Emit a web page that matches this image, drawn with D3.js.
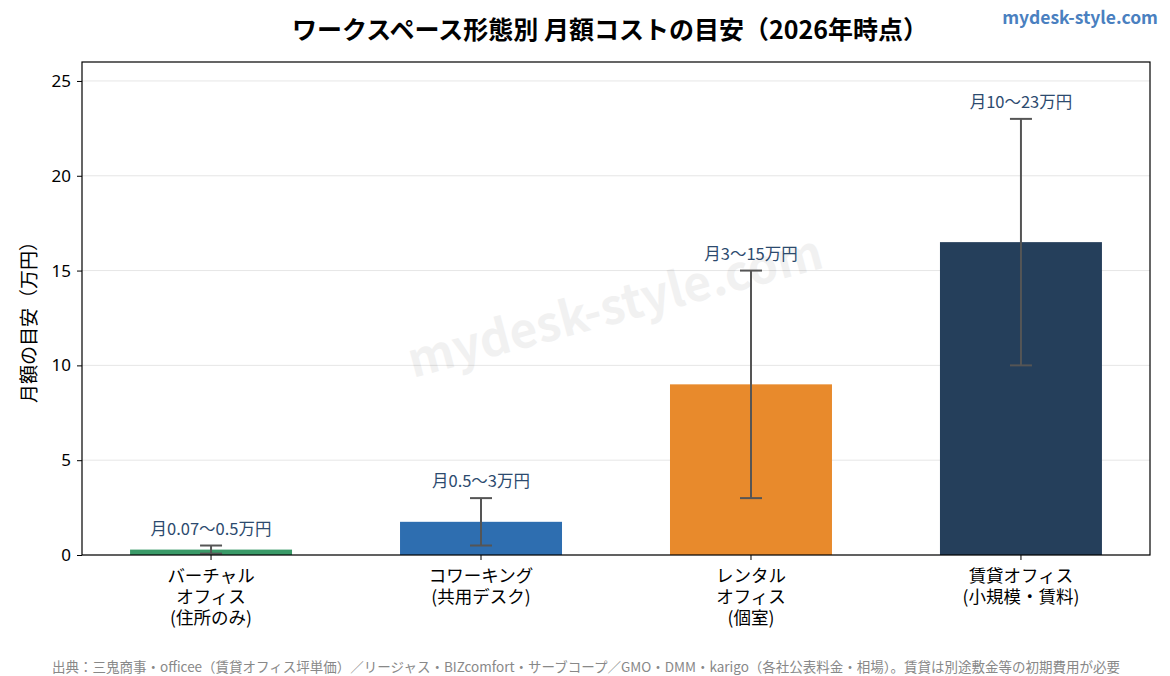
<!DOCTYPE html>
<html>
<head>
<meta charset="utf-8">
<script src="https://cdn.jsdelivr.net/npm/d3@7"></script>
<style>
  body { margin: 0; background: #fff; }
  svg { font-family: "Noto Sans CJK JP", "Noto Sans", sans-serif; }
</style>
</head>
<body>
<svg id="chart"></svg>
<script>
const categories = [
  ['バーチャル', 'オフィス', '(住所のみ)'],
  ['コワーキング', '(共用デスク)'],
  ['レンタル', 'オフィス', '(個室)'],
  ['賃貸オフィス', '(小規模・賃料)']
];
const lows = [0.07, 0.5, 3, 10];
const highs = [0.5, 3, 15, 23];
const mids = lows.map((l, i) => (l + highs[i]) / 2);
const rangeLabels = ['月0.07〜0.5万円', '月0.5〜3万円', '月3〜15万円', '月10〜23万円'];
const barColors = ['#3a9a68', '#2e6eb0', '#e88a2c', '#253f5b'];
const yTicks = [0, 5, 10, 15, 20, 25];

const width = 1170;
const height = 676;
const plotL = 82, plotR = 1150, plotT = 62, plotB = 555;

const svg = d3.select('#chart').attr('width', width).attr('height', height);

const xScale = d3.scaleLinear().domain([-0.478, 3.478]).range([plotL, plotR]);
const yScale = d3.scaleLinear().domain([0, 26]).range([plotB, plotT]);
const barW = xScale(0.6) - xScale(0);

// grid
svg.append('g')
  .selectAll('line')
  .data(yTicks)
  .enter()
  .append('line')
  .attr('x1', plotL).attr('x2', plotR)
  .attr('y1', d => yScale(d)).attr('y2', d => yScale(d))
  .attr('stroke', '#e6e6e6')
  .attr('stroke-width', 1);

// watermark
svg.append('text')
  .attr('transform', `translate(616, 310) rotate(-15)`)
  .attr('text-anchor', 'middle')
  .attr('dominant-baseline', 'middle')
  .style('font-size', '48px')
  .style('font-weight', 'bold')
  .style('fill', '#000')
  .style('opacity', 0.05)
  .text('mydesk-style.com');

// bars
svg.selectAll('.bar')
  .data(mids)
  .enter()
  .append('rect')
  .attr('class', 'bar')
  .attr('x', (d, i) => xScale(i) - barW / 2)
  .attr('width', barW)
  .attr('y', d => yScale(d))
  .attr('height', d => yScale(0) - yScale(d))
  .style('fill', (d, i) => barColors[i]);

// error bars
const err = svg.append('g').attr('stroke', '#555').attr('stroke-width', 2);
lows.forEach((l, i) => {
  const cx = xScale(i);
  err.append('line').attr('x1', cx).attr('x2', cx).attr('y1', yScale(l)).attr('y2', yScale(highs[i]));
  err.append('line').attr('x1', cx - 11).attr('x2', cx + 11).attr('y1', yScale(l)).attr('y2', yScale(l));
  err.append('line').attr('x1', cx - 11).attr('x2', cx + 11).attr('y1', yScale(highs[i])).attr('y2', yScale(highs[i]));
});

// range labels
svg.selectAll('.rlabel')
  .data(rangeLabels)
  .enter()
  .append('text')
  .attr('x', (d, i) => xScale(i))
  .attr('y', (d, i) => yScale(highs[i]) - 11)
  .attr('text-anchor', 'middle')
  .style('font-size', '16.5px')
  .style('fill', '#2c4a6e')
  .text(d => d);

// frame
svg.append('rect')
  .attr('x', plotL).attr('y', plotT)
  .attr('width', plotR - plotL).attr('height', plotB - plotT)
  .attr('fill', 'none').attr('stroke', '#000').attr('stroke-width', 1.2);

// y axis
const yAxis = d3.axisLeft(yScale).tickValues(yTicks).tickSize(5).tickPadding(6);
const yg = svg.append('g').attr('transform', `translate(${plotL},0)`).call(yAxis);
yg.select('.domain').remove();
yg.selectAll('text').style('font-size', '17px').style('fill', '#000')
  .style('font-family', '"Noto Sans", "DejaVu Sans", sans-serif');

// x ticks and labels (one text per line)
const xg = svg.append('g');
categories.forEach((lines, i) => {
  const cx = xScale(i);
  xg.append('line').attr('x1', cx).attr('x2', cx).attr('y1', plotB).attr('y2', plotB + 5)
    .attr('stroke', '#000').attr('stroke-width', 1);
  lines.forEach((s, j) => {
    xg.append('text')
      .attr('x', cx).attr('y', 582 + j * 21)
      .attr('text-anchor', 'middle')
      .style('font-size', '17.5px')
      .style('fill', '#000')
      .text(s);
  });
});

// y label
svg.append('text')
  .attr('transform', `translate(36, ${(plotT + plotB) / 2 + 9}) rotate(-90)`)
  .attr('text-anchor', 'middle')
  .style('font-size', '19px')
  .style('fill', '#000')
  .text('月額の目安（万円）');

// title
svg.append('text')
  .attr('x', 610).attr('y', 39)
  .attr('text-anchor', 'middle')
  .style('font-size', '25px')
  .style('font-weight', 'bold')
  .text('ワークスペース形態別 月額コストの目安（2026年時点）');

svg.append('text')
  .attr('x', 1158).attr('y', 24)
  .attr('text-anchor', 'end')
  .style('font-size', '17.5px')
  .style('font-weight', 'bold')
  .style('fill', '#4a80c0')
  .text('mydesk-style.com');

// source
svg.append('text')
  .attr('x', 52).attr('y', 672)
  .style('font-size', '13.5px')
  .style('fill', '#888')
  .text('出典：三鬼商事・officee（賃貸オフィス坪単価）／リージャス・BIZcomfort・サーブコープ／GMO・DMM・karigo（各社公表料金・相場）。賃貸は別途敷金等の初期費用が必要');
</script>
</body>
</html>
